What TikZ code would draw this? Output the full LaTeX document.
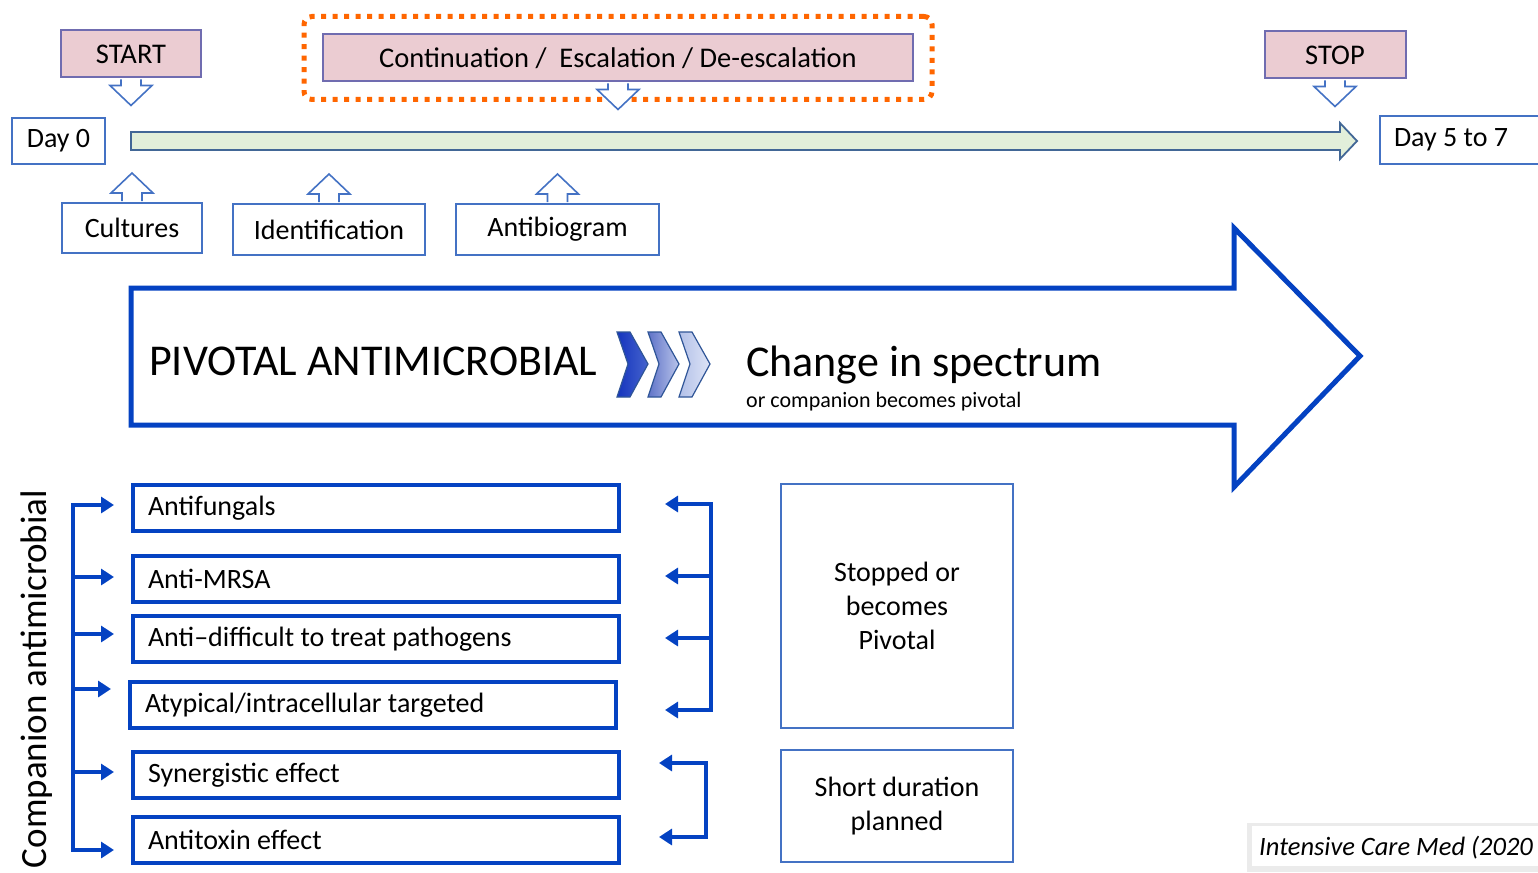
\documentclass[tikz,border=0pt]{standalone}
\usepackage{fontspec}
\setmainfont{Carlito}
\usetikzlibrary{arrows.meta, positioning, calc, fit}

\definecolor{boxpink}{RGB}{235,204,210}
\definecolor{pinkline}{RGB}{112,108,176}
\definecolor{lineblue}{RGB}{68,114,196}
\definecolor{deepblue}{RGB}{4,66,194}
\definecolor{timegreen}{RGB}{226,239,218}
\definecolor{timeline}{RGB}{66,103,150}
\definecolor{dotorange}{RGB}{255,102,0}
\definecolor{chevline}{RGB}{47,85,151}

\newcommand{\fs}[1]{\fontsize{#1}{1.22\dimexpr#1pt\relax}\selectfont}

\begin{document}
\begin{tikzpicture}[
    x=1pt, y=-1pt,
    % Define box styles
    phase/.style={
        rectangle,
        draw=pinkline,
        fill=boxpink,
        line width=2pt,
        minimum height=47pt,
        font=\fs{28.5}
    },
    event/.style={
        rectangle,
        draw=lineblue,
        fill=white,
        line width=2pt,
        font=\fs{28}
    },
    agent/.style={
        rectangle,
        draw=deepblue,
        line width=4pt,
        anchor=west,
        minimum height=46pt,
        text width=456pt,
        inner xsep=15pt,
        align=flush left,
        font=\fs{28}
    },
    outcome/.style={
        rectangle,
        draw=lineblue,
        line width=2pt,
        minimum width=232pt,
        align=center,
        font=\fs{28}
    },
    link/.style={
        draw=deepblue,
        line width=3.6pt,
        -{Triangle[length=13pt,width=16pt]}
    },
    bar/.style={draw=deepblue, line width=3.6pt, line cap=rect},
    % Hollow block arrows
    hollowdown/.pic={
        \draw[lineblue, line width=1.6pt, fill=white, line join=miter]
            (-10,1) -- (-10,7) -- (-21,7) -- (0,27) -- (21,7) -- (10,7) -- (10,1);
    },
    hollowup/.pic={
        \draw[lineblue, line width=1.6pt, fill=white, line join=miter]
            (-10,-1) -- (-10,-9) -- (-21,-9) -- (0,-29) -- (21,-9) -- (10,-9) -- (10,-1);
    }
]
    \useasboundingbox (0,0) rectangle (1538,872);
    \clip (0,0) rectangle (1538,872);

    % =================================================================
    % --- TIMELINE ---
    % =================================================================
    \node[phase, minimum width=140pt] (start) at (131,54) {START};
    \node[phase, minimum width=141pt] (stop) at (1335,55) {STOP};
    \node[phase, minimum width=590pt] (cont) at (618,58) {Continuation /~ Escalation / De-escalation};
    \node[draw=dotorange, line width=5pt, dash pattern=on 5pt off 6.5pt, rounded corners=8pt,
          fit=(cont), inner xsep=18pt, inner ysep=17pt] (review) {};

    \node[event, minimum width=93pt, minimum height=46pt] (day0) at (58.5,141) {Day 0};
    \node[event, anchor=west, minimum height=47pt, text width=170pt, inner xsep=14pt, align=flush left]
        (day57) at (1379,140) {Day 5 to 7};

    % green time bar
    \draw[timeline, line width=1.8pt, fill=timegreen, line join=miter]
        (131,132) -- (1340,132) -- (1340,123) -- (1357,141) -- (1340,159) -- (1340,150) -- (131,150) -- cycle;

    \pic at (start.south) {hollowdown};
    \pic at (stop.south) {hollowdown};
    \pic at (cont.south) {hollowdown};

    % microbiology results
    \node[event, minimum width=140pt, minimum height=50pt] (cult) at (132,228) {Cultures};
    \node[event, minimum width=192pt, minimum height=51pt] (ident) at (329,229.5) {Identification};
    \node[event, minimum width=203pt, minimum height=51pt] (abg) at (557.5,229.5) {Antibiogram};
    \foreach \n in {cult, ident, abg}
        \pic at (\n.north) {hollowup};

    % =================================================================
    % --- PIVOTAL ANTIMICROBIAL ARROW ---
    % =================================================================
    \draw[deepblue, line width=5pt, line join=miter]
        (131,288) -- (1234,288) -- (1234,228) -- (1360,356) -- (1234,487) -- (1234,425) -- (131,425) -- cycle;

    \node[anchor=base west, inner sep=0pt, font=\fs{44}] (pivot) at (149,375) {PIVOTAL ANTIMICROBIAL};
    \node[anchor=base west, inner sep=0pt, font=\fs{44}] (change) at (746,376) {Change in spectrum};
    \node[anchor=base west, inner sep=0pt, font=\fs{22}] (changesub) at (746,407) {or companion becomes pivotal};

    % chevrons
    \foreach \i/\lc/\rc in {0/{rgb,255:red,20;green,52;blue,190}/{rgb,255:red,70;green,100;blue,205},
                            1/{rgb,255:red,95;green,115;blue,200}/{rgb,255:red,185;green,196;blue,234},
                            2/{rgb,255:red,178;green,192;blue,232}/{rgb,255:red,222;green,228;blue,246}} {
        \draw[chevline, line width=1.2pt, left color=\lc, right color=\rc, line join=miter]
            ({617+31*\i},332) -- ++(13,0) -- ++(18,32) -- ++(-18,33) -- ++(-13,0) -- ++(11,-33) -- cycle;
    }

    % =================================================================
    % --- COMPANION ANTIMICROBIALS ---
    % =================================================================
    \node[rotate=90, font=\fs{37}, inner sep=0pt] (comp) at (37,679) {Companion antimicrobial};

    \node[agent] (fung) at (131,508) {Antifungals};
    \node[agent] (mrsa) at (131,579) {Anti-MRSA};
    \node[agent] (diff) at (131,639) {Anti--difficult to treat pathogens};
    \node[agent] (atyp) at (128,705) {Atypical/intracellular targeted};
    \node[agent] (syn) at (131,775) {Synergistic effect};
    \node[agent] (tox) at (131,840) {Antitoxin effect};

    % left bracket
    \coordinate (ltop) at (73,505);
    \coordinate (lbot) at (73,850);
    \draw[bar] (ltop) -- (lbot);
    \foreach \b/\d in {fung/-3, mrsa/-2, diff/-5, atyp/-16, syn/-3, tox/10}
        \draw[link] ($(ltop |- \b.west)+(0,\d)$) -- ($(\b.west)+(-17,\d)$);

    % right brackets
    \coordinate (rtop) at (711,504);
    \coordinate (rbot) at (711,710);
    \draw[bar] (rtop) -- (rbot);
    \foreach \b/\d in {fung/-4, mrsa/-3, diff/-1, atyp/5}
        \draw[link] ($(rtop |- \b.east)+(0,\d)$) -- ($(fung.east |- \b.east)+(44,\d)$);

    \coordinate (stop2) at (706,763);
    \coordinate (sbot2) at (706,837);
    \draw[bar] (stop2) -- (sbot2);
    \foreach \b/\d in {syn/-12, tox/-3}
        \draw[link] ($(stop2 |- \b.east)+(0,\d)$) -- ($(\b.east)+(38,\d)$);

    % outcomes
    \node[outcome, minimum height=244pt] (stopped) at (897,606) {Stopped or\\becomes\\Pivotal};
    \node[outcome, minimum height=112pt] (short) at (897,806) {Short duration\\planned};

    % reference
    \fill[black!8] (1247,823) rectangle (1545,872);
    \fill[white] (1252,826) rectangle (1545,866);
    \node[anchor=base west, inner sep=0pt, font=\fs{26.5}\itshape] (cite) at (1259,855) {Intensive Care Med (2020};
\end{tikzpicture}
\end{document}
